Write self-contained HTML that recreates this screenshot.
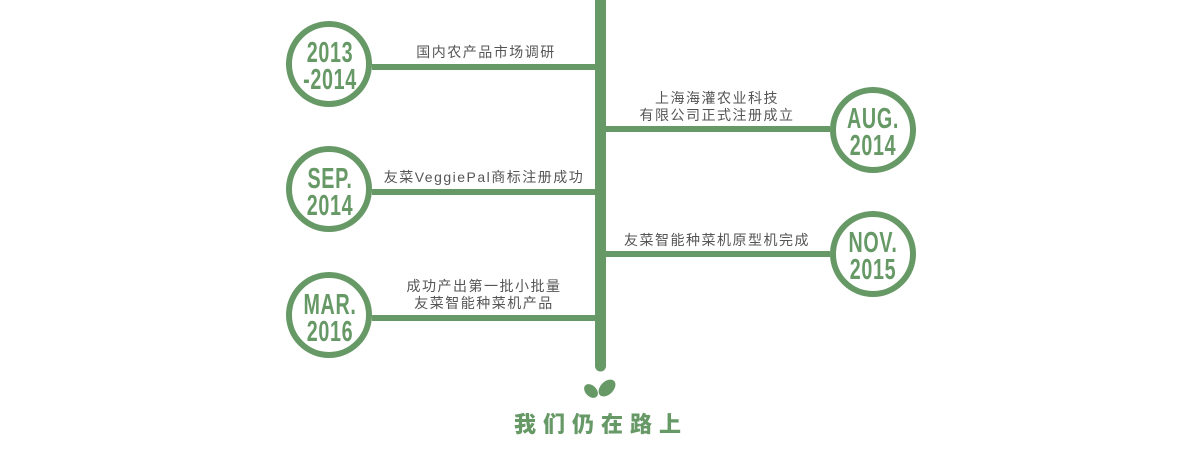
<!DOCTYPE html>
<html><head><meta charset="utf-8"><style>
html,body{margin:0;padding:0;background:#fff;width:1200px;height:458px;overflow:hidden}
svg{display:block}
.n{font-family:"Liberation Sans Narrow","Liberation Sans",sans-serif;font-weight:bold;font-size:29px;fill:#669966;letter-spacing:1px}
.t{font-family:"Liberation Sans","Noto Sans CJK SC",sans-serif;font-size:14px;fill:#555;letter-spacing:1.5px}
</style></head><body>
<svg width="1200" height="458" viewBox="0 0 1200 458">
<g stroke="#669966" fill="none">
<line x1="600.5" y1="0" x2="600.5" y2="366" stroke-width="11" stroke-linecap="round"/>
<line x1="372" y1="67" x2="600" y2="67" stroke-width="6"/>
<line x1="372" y1="192" x2="600" y2="192" stroke-width="6"/>
<line x1="372" y1="318" x2="600" y2="318" stroke-width="6"/>
<line x1="600" y1="129" x2="830" y2="129" stroke-width="6"/>
<line x1="600" y1="254" x2="830" y2="254" stroke-width="6"/>
<circle cx="329" cy="64" r="40" stroke-width="6" fill="#fff"/>
<circle cx="329" cy="189" r="40" stroke-width="6" fill="#fff"/>
<circle cx="329" cy="315" r="40" stroke-width="6" fill="#fff"/>
<circle cx="873" cy="130" r="40" stroke-width="6" fill="#fff"/>
<circle cx="873" cy="254" r="40" stroke-width="6" fill="#fff"/>
</g>
<g class="n" text-anchor="middle">
<text x="330" y="62" transform="translate(330 0) scale(0.68 1) translate(-330 0)">2013</text>
<text x="330" y="89" transform="translate(330 0) scale(0.68 1) translate(-330 0)">-2014</text>
<text x="330" y="188" transform="translate(330 0) scale(0.68 1) translate(-330 0)">SEP.</text>
<text x="330" y="215" transform="translate(330 0) scale(0.68 1) translate(-330 0)">2014</text>
<text x="330" y="314" transform="translate(330 0) scale(0.68 1) translate(-330 0)">MAR.</text>
<text x="330" y="341" transform="translate(330 0) scale(0.68 1) translate(-330 0)">2016</text>
<text x="873" y="128" transform="translate(873 0) scale(0.68 1) translate(-873 0)">AUG.</text>
<text x="873" y="155" transform="translate(873 0) scale(0.68 1) translate(-873 0)">2014</text>
<text x="873" y="252" transform="translate(873 0) scale(0.68 1) translate(-873 0)">NOV.</text>
<text x="873" y="279" transform="translate(873 0) scale(0.68 1) translate(-873 0)">2015</text>
</g>
<g class="t" text-anchor="middle">
<text x="486" y="57">国内农产品市场调研</text>
<text x="484" y="182">友菜VeggiePal商标注册成功</text>
<text x="484" y="291">成功产出第一批小批量</text>
<text x="484" y="308">友菜智能种菜机产品</text>
<text x="717" y="103">上海海灌农业科技</text>
<text x="717" y="120">有限公司正式注册成立</text>
<text x="717" y="245">友菜智能种菜机原型机完成</text>
</g>
<g fill="#669966">
<ellipse cx="591" cy="391" rx="8" ry="5.5" transform="rotate(45 591 391)"/>
<ellipse cx="607" cy="388" rx="10" ry="6.5" transform="rotate(-45 607 388)"/>
</g>
<text x="601" y="432" text-anchor="middle" style="font-family:'Noto Sans CJK SC',sans-serif;font-weight:900;font-size:22px;fill:#669966;letter-spacing:7px">我们仍在路上</text>
</svg>
</body></html>
